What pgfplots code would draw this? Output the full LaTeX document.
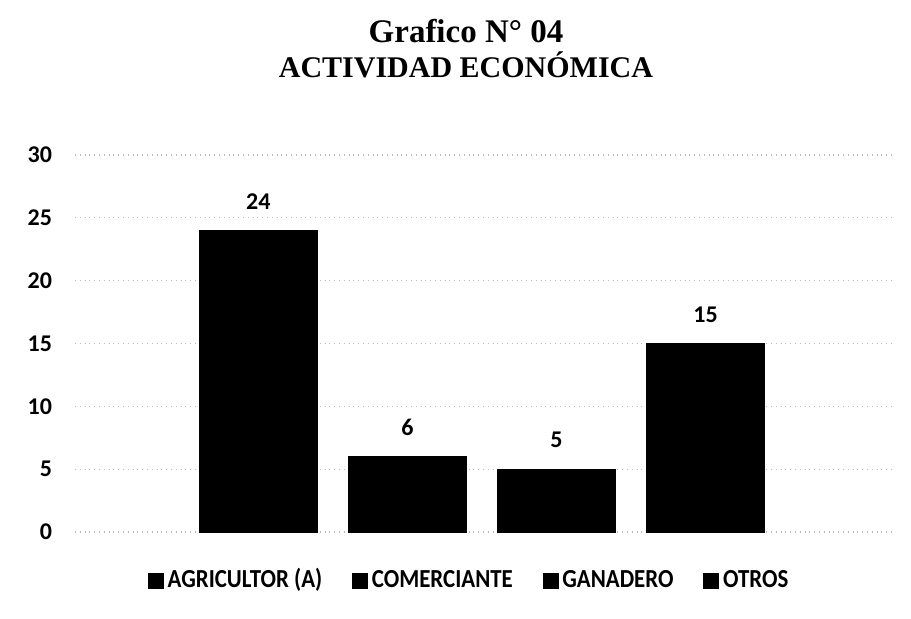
\documentclass[border=0pt]{standalone}
\usepackage{pgfplots}
\pgfplotsset{compat=1.18}
\usepackage{fontspec}
\setmainfont{Carlito}
\newfontfamily\titlefont{Liberation Serif}
\newfontfamily\legfont{Carlito}[FakeStretch=0.88]
\begin{document}
\begin{tikzpicture}[x=0.5pt,y=0.5pt]
\path[use as bounding box] (0,0) rectangle (911,618);
\node[font=\titlefont\bfseries\fontsize{15}{17.5}\selectfont, align=center, inner sep=0pt, anchor=base] at (466,618-77)
  {{\fontsize{16.5}{17.5}\selectfont Grafico N\textdegree{} 04}\\ACTIVIDAD ECONÓMICA};
\begin{axis}[
  at={(37.5pt,43pt)}, anchor=south west,
  scale only axis, width=410pt, height=188.5pt,
  xmin=-1.23, xmax=4.27, ymin=0, ymax=30,
  ytick={0,5,...,30},
  xtick=\empty,
  axis line style={draw=none},
  major tick length=0pt,
  ymajorgrids,
  grid style={dotted, gray!55, line width=0.6pt},
  yticklabel style={font=\bfseries\fontsize{12}{14}\selectfont, xshift=-8pt},
  /pgf/number format/assume math mode=true,
  ybar, bar width=59pt, bar shift=0pt,
  nodes near coords,
  every node near coord/.append style={font=\bfseries\fontsize{12}{14}\selectfont, yshift=7pt},
  legend style={at={(0.482,-0.135)}, anchor=center, draw=none, legend columns=4,
    font=\legfont\bfseries\fontsize{13}{15}\selectfont,
    nodes={text height=0.7em, text depth=0.2em},
    /tikz/every even column/.append style={column sep=13pt}},
  legend image code/.code={\fill[black] (0.04cm,-0.09cm) rectangle (0.3cm,0.17cm);},
]
\addplot[fill=black, draw=black] coordinates {(0,24)};
\addlegendentry{AGRICULTOR (A)}
\addplot[fill=black, draw=black] coordinates {(1,6)};
\addlegendentry{COMERCIANTE}
\addplot[fill=black, draw=black] coordinates {(2,5)};
\addlegendentry{GANADERO}
\addplot[fill=black, draw=black] coordinates {(3,15)};
\addlegendentry{OTROS}
\end{axis}
\end{tikzpicture}
\end{document}
